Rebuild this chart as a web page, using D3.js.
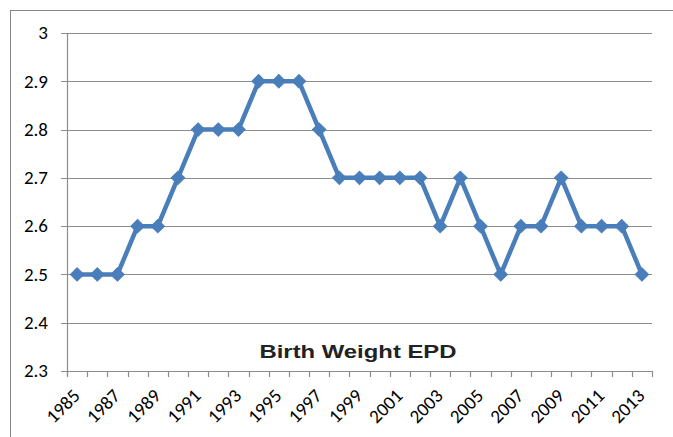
<!DOCTYPE html>
<html><head><meta charset="utf-8">
<script src="https://cdn.jsdelivr.net/npm/d3@7"></script>
<style>body{margin:0;background:#fff}</style>
</head><body>
<svg id="c" width="673" height="437"></svg>
<script>
const years = [1985,1986,1987,1988,1989,1990,1991,1992,1993,1994,1995,1996,1997,1998,1999,2000,2001,2002,2003,2004,2005,2006,2007,2008,2009,2010,2011,2012,2013];
const values = [2.5,2.5,2.5,2.6,2.6,2.7,2.8,2.8,2.8,2.9,2.9,2.9,2.8,2.7,2.7,2.7,2.7,2.7,2.6,2.7,2.6,2.5,2.6,2.6,2.7,2.6,2.6,2.6,2.5];
const yTicks = [2.3,2.4,2.5,2.6,2.7,2.8,2.9,3.0];
const title = "Birth Weight EPD";

const svg = d3.select("#c");
const L = 67, R = 652, T = 33, B = 371;
const font = "Carlito, 'Open Sans', 'Liberation Sans', sans-serif";

svg.append("rect").attr("x",10.5).attr("y",10.5).attr("width",700).attr("height",500)
  .attr("fill","none").attr("stroke","#868686").attr("stroke-width",1);

const x = d3.scaleBand().domain(years).range([L,R]);
const y = d3.scaleLinear().domain([2.3,3.0]).range([B,T]);

svg.append("g").selectAll("line").data(yTicks).join("line")
  .attr("x1",L-6).attr("x2",R).attr("y1",d=>Math.round(y(d))+0.5).attr("y2",d=>Math.round(y(d))+0.5)
  .attr("stroke","#8c8c8c").attr("stroke-width",1.2);

svg.append("line").attr("x1",L+0.5).attr("x2",L+0.5).attr("y1",T).attr("y2",B+5)
  .attr("stroke","#8c8c8c").attr("stroke-width",1.2);

svg.append("g").selectAll("text").data(yTicks).join("text")
  .attr("x",48).attr("y",d=>y(d)).attr("dy","0.33em").attr("text-anchor","end")
  .attr("font-family",font).attr("font-size",19).attr("fill","#000")
  .text(d=>d===3?"3":d.toFixed(1));

const bounds = years.map(d=>x(d)).concat([R]);
svg.append("g").selectAll("line").data(bounds).join("line")
  .attr("x1",d=>Math.round(d)+0.5).attr("x2",d=>Math.round(d)+0.5).attr("y1",B).attr("y2",B+6)
  .attr("stroke","#8c8c8c").attr("stroke-width",1.2);

svg.append("g").selectAll("text").data(years.filter((d,i)=>i%2===0)).join("text")
  .attr("transform",d=>`translate(${x(d)+x.bandwidth()/2+4},${B+26}) rotate(-45)`)
  .attr("text-anchor","end")
  .attr("font-family",font).attr("font-size",19).attr("fill","#000")
  .text(d=>d);

const line = d3.line().x((d,i)=>x(years[i])+x.bandwidth()/2).y(d=>y(d));
svg.append("path").datum(values).attr("d",line).attr("fill","none")
  .attr("stroke","#4a7ebb").attr("stroke-width",4.5).attr("stroke-linejoin","round");

svg.append("g").selectAll("path").data(values).join("path")
  .attr("transform",(d,i)=>`translate(${x(years[i])+x.bandwidth()/2},${y(d)}) rotate(45)`)
  .attr("d",d3.symbol().type(d3.symbolSquare).size(90))
  .attr("fill","#4a7ebb").attr("stroke","#4a7ebb").attr("stroke-width",1);

svg.append("text").attr("x",358).attr("y",358).attr("text-anchor","middle")
  .attr("font-family","'Liberation Sans', Arial, sans-serif").attr("font-weight","bold")
  .attr("font-size",19).attr("fill","#222")
  .attr("textLength",197).attr("lengthAdjust","spacingAndGlyphs")
  .text(title);
</script>
</body></html>
